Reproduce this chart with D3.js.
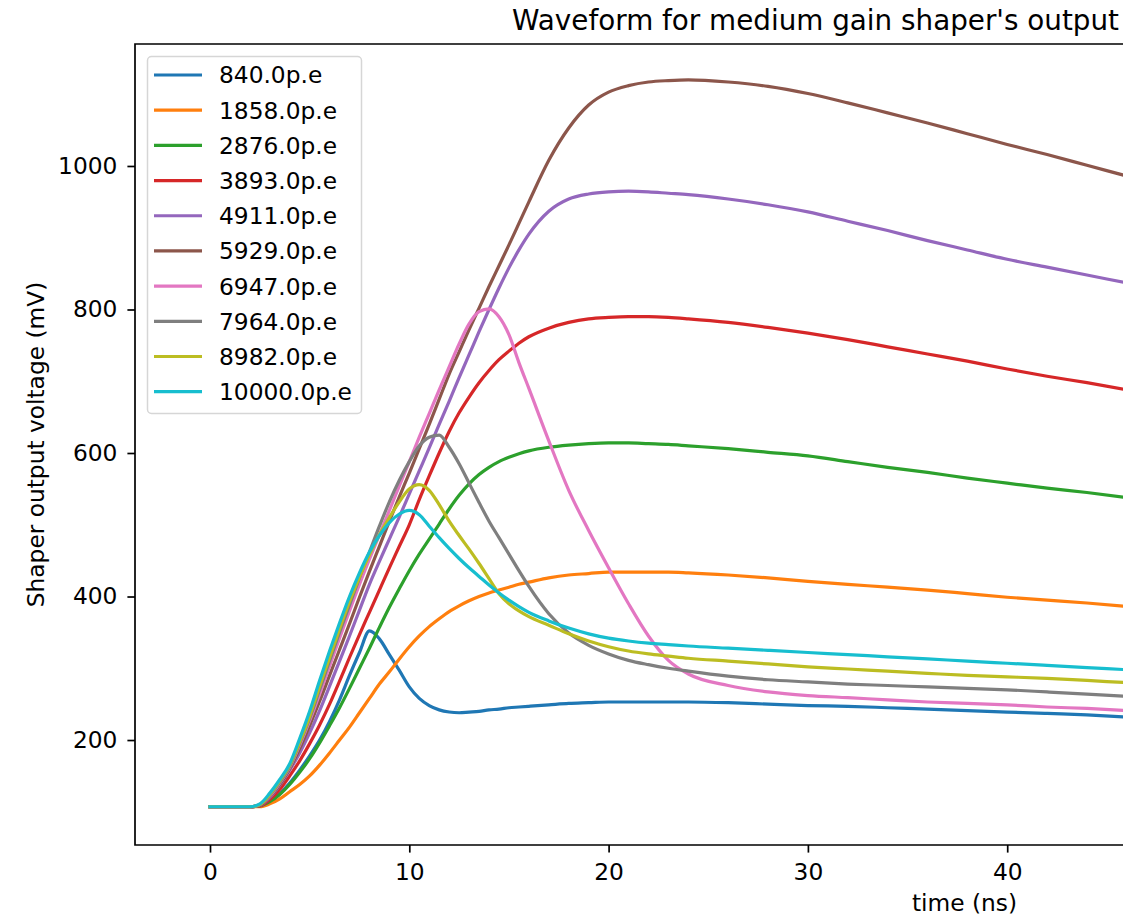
<!DOCTYPE html>
<meta charset="utf-8">
<script src="https://d3js.org/d3.v7.min.js"></script>
<style>
  body { margin: 0; background: #fff; }
  text { font-family: "DejaVu Sans", sans-serif; fill: #000; }
</style>
<body>
<svg id="chart" width="1148" height="920"></svg>
<script>
  // time axis (ns), shared by every waveform
  var times = [0, 1, 2, 2.5, 3, 3.5, 4, 4.5, 5, 5.5, 6, 6.5,
    7, 7.5, 8, 8.5, 9, 9.5, 10, 10.5, 11, 11.5, 12, 12.5, 13, 13.5, 14, 14.5, 15, 15.5, 16,
    17, 18, 19, 20, 21, 22, 23,
    24, 26, 28, 30, 32, 34, 36, 38, 40, 42, 44, 46];

  // shaper output (mV) for each number of photo-electrons
  var v840 = [107, 107, 107, 108, 114, 125, 140, 158, 178, 200, 226, 256,
    290, 322, 352, 341, 319, 297, 274, 258, 248, 242, 239, 238, 239, 240, 242, 243, 245, 246, 247,
    249, 251, 252, 253, 253, 253, 253,
    253, 252, 250, 248, 247, 245, 243, 241, 239, 237, 235, 232];
  var v1858 = [107, 107, 107, 107, 111, 118, 128, 138, 150, 165, 182, 200,
    218, 238, 258, 278, 295, 313, 330, 345, 358, 369, 379, 387, 394, 400, 405, 409, 413, 417, 420,
    426, 430, 432, 434, 434, 434, 434,
    433, 430, 426, 421, 417, 413, 409, 404, 399, 395, 391, 386];
  var v2876 = [107, 107, 107, 108, 114, 124, 138, 155, 174, 196, 220, 245,
    272, 300, 328, 357, 385, 411, 436, 459, 480, 501, 522, 541, 557, 570, 580, 588, 594, 599, 603,
    608, 611, 613, 614, 614, 613, 612,
    610, 606, 601, 596, 588, 580, 573, 565, 558, 551, 545, 538];
  var v3893 = [107, 107, 107, 108, 117, 131, 150, 171, 195, 221, 250, 282,
    315, 347, 378, 409, 440, 470, 500, 535, 568, 600, 630, 656, 678, 698, 715, 730, 742, 753, 762,
    774, 782, 787, 789, 790, 790, 789,
    787, 782, 775, 767, 758, 748, 738, 728, 717, 707, 698, 688];
  var v4911 = [107, 107, 107, 109, 120, 137, 158, 182, 210, 241, 275, 310,
    345, 381, 417, 449, 480, 511, 543, 575, 607, 640, 672, 705, 737, 769, 800, 830, 858, 883, 905,
    937, 954, 961, 964, 965, 964, 962,
    960, 954, 946, 936, 923, 910, 896, 883, 870, 859, 848, 837];
  var v5929 = [107, 107, 107, 109, 121, 138, 160, 188, 220, 254, 290, 326,
    362, 399, 435, 470, 505, 539, 572, 606, 640, 675, 710, 741, 772, 802, 832, 861, 890, 920, 950,
    1008, 1053, 1085, 1103, 1112, 1117, 1119,
    1120, 1117, 1111, 1101, 1088, 1074, 1060, 1045, 1030, 1016, 1001, 986];
  var v6947 = [107, 107, 107, 110, 122, 140, 162, 193, 227, 264, 303, 342,
    380, 417, 452, 486, 520, 554, 588, 622, 655, 688, 720, 752, 780, 797, 801, 790, 765, 726, 690,
    617, 548, 492, 440, 390, 345, 311,
    292, 276, 267, 262, 259, 256, 253, 251, 249, 246, 244, 241];
  var v7964 = [107, 107, 107, 110, 123, 141, 163, 195, 230, 270, 310, 350,
    388, 426, 462, 498, 532, 562, 588, 610, 622, 625, 608, 585, 558, 531, 505, 482, 459, 436, 414,
    376, 349, 332, 320, 311, 305, 300,
    296, 289, 284, 281, 278, 276, 274, 272, 270, 267, 264, 261];
  var v8982 = [107, 107, 107, 110, 124, 143, 165, 197, 233, 275, 315, 355,
    393, 427, 458, 486, 510, 532, 550, 556, 548, 528, 505, 485, 466, 446, 425, 404, 390, 380, 372,
    360, 348, 338, 330, 324, 320, 317,
    314, 310, 306, 302, 299, 296, 293, 290, 288, 286, 283, 280];
  var v10000 = [107, 107, 107, 111, 126, 145, 167, 202, 240, 283, 324, 363,
    400, 433, 462, 485, 503, 515, 520, 514, 498, 482, 467, 453, 440, 428, 416, 405, 395, 386, 378,
    366, 356, 348, 342, 338, 335, 333,
    331, 328, 325, 322, 319, 316, 313, 310, 307, 304, 301, 298];

  var labels = ["840.0p.e", "1858.0p.e", "2876.0p.e", "3893.0p.e", "4911.0p.e",
    "5929.0p.e", "6947.0p.e", "7964.0p.e", "8982.0p.e", "10000.0p.e"];
  var xTicks = [0, 10, 20, 30, 40];
  var yTicks = [200, 400, 600, 800, 1000];

  var colors = ["#1f77b4", "#ff7f0e", "#2ca02c", "#d62728", "#9467bd",
    "#8c564b", "#e377c2", "#7f7f7f", "#bcbd22", "#17becf"];

  var series = [v840, v1858, v2876, v3893, v4911, v5929, v6947, v7964, v8982, v10000]
    .map(function (vals, i) {
      return { label: labels[i], color: colors[i], points: vals.map(function (v, j) { return [times[j], v]; }) };
    });

  var svg = d3.select("#chart");
  // plot box (window.top is taken, so prefixed names)
  var pLeft = 135, pRight = 1123, pTop = 44, pBottom = 845;
  var fontSize = "23.3px";

  var x = d3.scaleLinear().domain([-3.763, 45.81]).range([pLeft, pRight]);
  var y = d3.scaleLinear().domain([53.7, 1170]).range([pBottom, pTop]);

  svg.append("clipPath").attr("id", "plot")
    .append("rect").attr("x", pLeft).attr("y", pTop)
    .attr("width", pRight - pLeft).attr("height", pBottom - pTop);

  // waveforms
  var line = d3.line()
    .x(function (d) { return x(d[0]); })
    .y(function (d) { return y(d[1]); })
    .curve(d3.curveMonotoneX);

  svg.append("g").attr("clip-path", "url(#plot)")
    .selectAll("path")
    .data(series)
    .enter()
    .append("path")
    .attr("d", function (d) { return line(d.points); })
    .attr("fill", "none")
    .attr("stroke", function (d) { return d.color; })
    .attr("stroke-width", 3.2)
    .attr("stroke-linejoin", "round")
    .attr("stroke-linecap", "square");

  // axes
  var xAxis = svg.append("g")
    .attr("transform", "translate(0," + pBottom + ")")
    .call(d3.axisBottom(x).tickValues(xTicks).tickSize(7.6).tickPadding(11).tickFormat(d3.format("d")));
  var yAxis = svg.append("g")
    .attr("transform", "translate(" + pLeft + ",0)")
    .call(d3.axisLeft(y).tickValues(yTicks).tickSize(7.6).tickPadding(10).tickFormat(d3.format("d")));

  [xAxis, yAxis].forEach(function (g) {
    g.select(".domain").remove();
    g.selectAll(".tick line").attr("stroke", "#000").attr("stroke-width", 1.7);
    g.selectAll(".tick text").style("font-size", fontSize).attr("fill", "#000");
  });

  // spines: left, top, bottom (right edge is cut off)
  svg.append("path")
    .attr("d", "M" + pRight + "," + pTop + "H" + pLeft + "V" + pBottom + "H" + pRight)
    .attr("fill", "none")
    .attr("stroke", "#000")
    .attr("stroke-width", 1.7);

  // titles
  svg.append("text")
    .attr("x", 1119).attr("y", 30)
    .attr("text-anchor", "end")
    .style("font-size", "27.8px")
    .text("Waveform for medium gain shaper's output");

  svg.append("text")
    .attr("x", 1017).attr("y", 911)
    .attr("text-anchor", "end")
    .style("font-size", fontSize)
    .text("time (ns)");

  svg.append("text")
    .attr("transform", "translate(44," + ((pTop + pBottom) / 2) + ") rotate(-90)")
    .attr("text-anchor", "middle")
    .style("font-size", fontSize)
    .text("Shaper output voltage (mV)");

  // legend
  var legend = svg.append("g");
  legend.append("rect")
    .attr("x", 147.5).attr("y", 56.5)
    .attr("width", 214).attr("height", 357)
    .attr("rx", 4)
    .attr("fill", "#fff")
    .attr("fill-opacity", 0.8)
    .attr("stroke", "#d6d6d6")
    .attr("stroke-width", 1.5);

  var rows = legend.selectAll("g.row")
    .data(series)
    .enter()
    .append("g")
    .attr("class", "row")
    .attr("transform", function (d, i) { return "translate(0," + (75 + i * 35.19) + ")"; });

  rows.append("line")
    .attr("x1", 154).attr("x2", 202)
    .attr("stroke", function (d) { return d.color; })
    .attr("stroke-width", 3.2);

  rows.append("text")
    .attr("x", 219).attr("dy", "0.36em")
    .style("font-size", fontSize)
    .text(function (d) { return d.label; });
</script>
</body>
